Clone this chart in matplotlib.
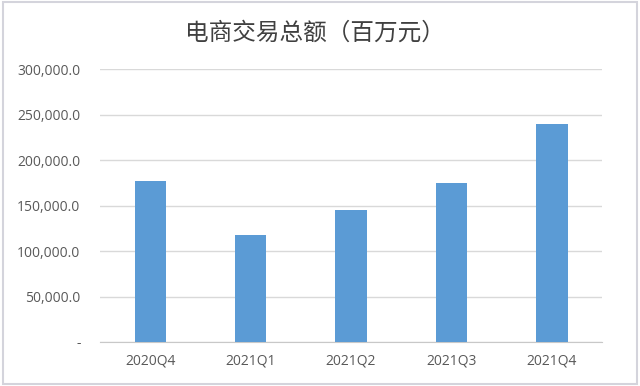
import matplotlib
matplotlib.use('Agg')
from matplotlib import pyplot as plt
from matplotlib.patches import Rectangle
from matplotlib.ticker import FuncFormatter

# Data
quarters = ['2020Q4', '2021Q1', '2021Q2', '2021Q3', '2021Q4']
amounts = [177000, 117500, 145000, 175000, 239500]
yTicks = [0, 50000, 100000, 150000, 200000, 250000, 300000]

barColor = '#5b9bd5'
gridColor = '#d9d9d9'
textColor = '#595959'

plt.rcParams['font.family'] = ['Open Sans', 'Noto Sans CJK SC', 'DejaVu Sans']

figure = plt.figure(figsize=(6.4, 3.86), dpi=100)
ax = figure.add_axes([0.156, 0.114, 0.785, 0.707])

ax.bar(range(len(quarters)), amounts, width=0.31, color=barColor, zorder=3)

ax.set_xlim(-0.5, len(quarters) - 0.5)
ax.set_ylim(0, 300000)
ax.set_yticks(yTicks)
ax.yaxis.set_major_formatter(FuncFormatter(lambda v, p: '-' if v == 0 else '{:,.1f}'.format(v)))
ax.set_xticks(range(len(quarters)))
ax.set_xticklabels(quarters)

ax.grid(axis='y', color=gridColor, linewidth=1, zorder=0)
ax.tick_params(axis='both', length=0, labelsize=10, labelcolor=textColor)
ax.tick_params(axis='y', pad=14)
ax.tick_params(axis='x', pad=8)

for side in ['top', 'right', 'left']:
    ax.spines[side].set_visible(False)
ax.spines['bottom'].set_color('#c8c8c8')

# Title
figure.text(0.492, 0.915, '电商交易总额（百万元）', ha='center', va='center', fontsize=17,
            fontweight='light', color='#404040', family=['Noto Sans CJK SC', 'DejaVu Sans'])

# Light border around the chart
figure.patches.append(Rectangle((0.004, 0.006), 0.991, 0.988, transform=figure.transFigure,
                                fill=False, edgecolor='#d4d4dc', linewidth=1.5))

plt.savefig('out.png', dpi=100, facecolor='white')
